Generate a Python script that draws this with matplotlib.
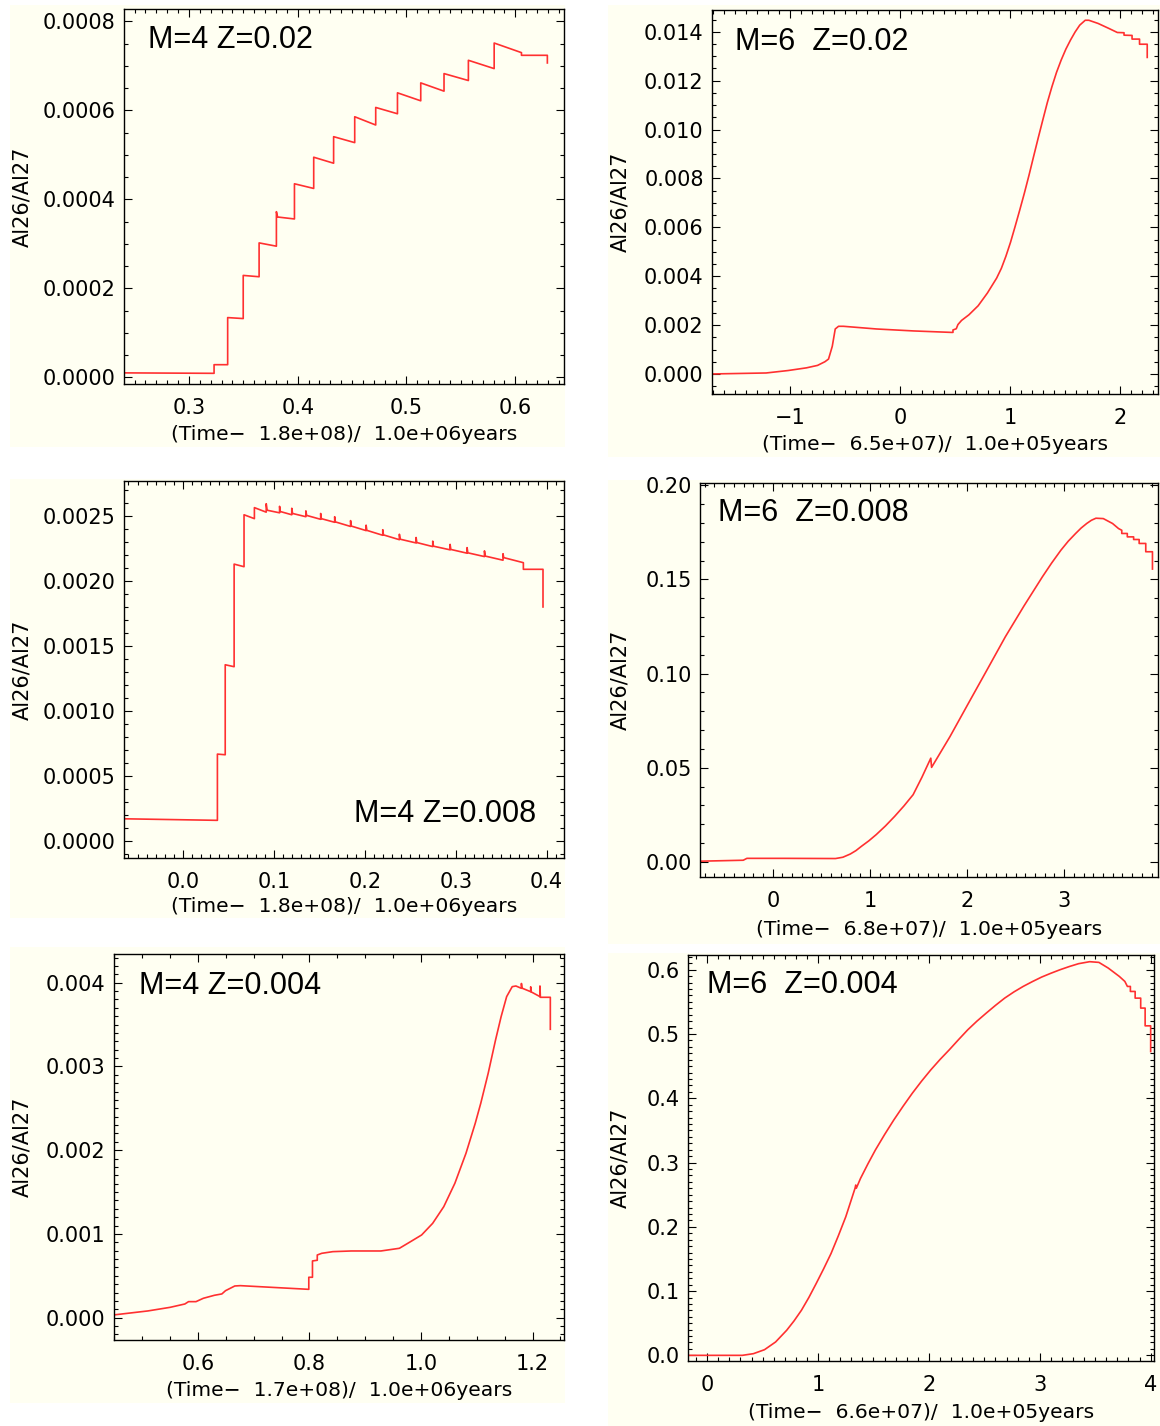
import matplotlib
matplotlib.use('Agg')
import matplotlib.pyplot as plt
from matplotlib.ticker import MultipleLocator, FuncFormatter
from matplotlib.patches import Rectangle

# Al26/Al27 against shifted time, one track per model

# M=4 Z=0.02  (time - 1.8e8)/1e6 yr
m4_z020_t = [0.2403, 0.3231, 0.3231, 0.3356, 0.3356, 0.3499, 0.3499, 0.3645, 0.3645,
             0.3804, 0.3804, 0.3815, 0.3970, 0.3970, 0.4147, 0.4147, 0.4330, 0.4330,
             0.4524, 0.4524, 0.4717, 0.4717, 0.4917, 0.4917, 0.5131, 0.5131, 0.5345,
             0.5345, 0.5569, 0.5569, 0.5806, 0.5806, 0.6057, 0.6057, 0.6295, 0.6295]
m4_z020_r = [0.0000100, 0.0000090, 0.0000284, 0.0000284, 0.0001343, 0.0001321, 0.0002291,
             0.0002261, 0.0003022, 0.0002948, 0.0003724, 0.0003604, 0.0003560, 0.0004351,
             0.0004246, 0.0004948, 0.0004813, 0.0005410, 0.0005276, 0.0005858, 0.0005672,
             0.0006067, 0.0005925, 0.0006396, 0.0006216, 0.0006619, 0.0006433, 0.0006828,
             0.0006672, 0.0007127, 0.0006940, 0.0007515, 0.0007299, 0.0007239, 0.0007239,
             0.0007067]

# M=6 Z=0.02  (time - 6.5e7)/1e5 yr
m6_z020_t = [-1.712, -1.22, -1.02, -0.853, -0.752, -0.685, -0.652, -0.618, -0.591, -0.561,
             -0.517, -0.215, 0.121, 0.467, 0.480, 0.480, 0.510, 0.525, 0.558, 0.625, 0.709,
             0.793, 0.877, 0.920, 0.961, 1.003, 1.045, 1.087, 1.129, 1.171, 1.213, 1.255,
             1.297, 1.338, 1.380, 1.422, 1.464, 1.507, 1.549, 1.591, 1.633, 1.683, 1.716,
             1.800, 1.901, 1.975, 2.036, 2.036, 2.109, 2.109, 2.177, 2.177, 2.247, 2.247]
m6_z020_r = [0.00000, 0.00004, 0.00014, 0.00025, 0.00035, 0.00050, 0.00061, 0.00113, 0.00184,
             0.00195, 0.00195, 0.00184, 0.00176, 0.00170, 0.00170, 0.00180, 0.00185, 0.00202,
             0.00219, 0.00242, 0.00279, 0.00331, 0.00392, 0.00432, 0.00481, 0.00538, 0.00603,
             0.00670, 0.00739, 0.00812, 0.00889, 0.00965, 0.01039, 0.01110, 0.01175, 0.01234,
             0.01284, 0.01329, 0.01366, 0.01399, 0.01427, 0.01447, 0.01447, 0.01434, 0.01413,
             0.01397, 0.01396, 0.01386, 0.01385, 0.01370, 0.01370, 0.01349, 0.01349, 0.01295]

# M=4 Z=0.008  (time - 1.8e8)/1e6 yr
m4_z008_t = [-0.0655, 0.0378, 0.0378, 0.0464, 0.0464, 0.0562, 0.0562, 0.0671, 0.0671, 0.0785,
             0.0785, 0.0915, 0.0915, 0.0925, 0.1062, 0.1062, 0.1070, 0.1196, 0.1196, 0.1205,
             0.1351, 0.1351, 0.1360, 0.1514, 0.1514, 0.1522, 0.1668, 0.1668, 0.1676, 0.1843,
             0.1843, 0.1851, 0.2014, 0.2014, 0.2022, 0.2197, 0.2197, 0.2205, 0.2380, 0.2380,
             0.2388, 0.2564, 0.2564, 0.2572, 0.2747, 0.2747, 0.2755, 0.2938, 0.2938, 0.2946,
             0.3125, 0.3125, 0.3133, 0.3316, 0.3316, 0.3324, 0.3520, 0.3520, 0.3528, 0.3744,
             0.3744, 0.3960, 0.3960]
m4_z008_r = [0.000169, 0.000157, 0.000667, 0.000662, 0.001355, 0.001340, 0.002130, 0.002110,
             0.002510, 0.002480, 0.002565, 0.002530, 0.002595, 0.002545, 0.002525, 0.002575,
             0.002535, 0.002510, 0.002560, 0.002520, 0.002495, 0.002540, 0.002505, 0.002475,
             0.002520, 0.002480, 0.002452, 0.002495, 0.002455, 0.002420, 0.002465, 0.002423,
             0.002388, 0.002430, 0.002390, 0.002352, 0.002395, 0.002355, 0.002318, 0.002360,
             0.002322, 0.002293, 0.002335, 0.002296, 0.002265, 0.002307, 0.002268, 0.002240,
             0.002282, 0.002243, 0.002214, 0.002257, 0.002217, 0.002188, 0.002232, 0.002192,
             0.002160, 0.002210, 0.002180, 0.002141, 0.002090, 0.002090, 0.001800]

# M=6 Z=0.008  (time - 6.8e7)/1e5 yr
m6_z008_t = [-0.741, -0.304, -0.266, 0.114, 0.646, 0.722, 0.798, 0.856, 0.913, 0.989, 1.065,
             1.160, 1.255, 1.350, 1.445, 1.536, 1.627, 1.635, 1.730, 1.825, 2.015, 2.205,
             2.395, 2.586, 2.776, 2.871, 2.966, 3.042, 3.118, 3.175, 3.232, 3.280, 3.327,
             3.403, 3.498, 3.560, 3.593, 3.593, 3.650, 3.650, 3.715, 3.715, 3.772, 3.772,
             3.840, 3.840, 3.909, 3.909]
m6_z008_r = [0.0004, 0.0009, 0.0019, 0.0019, 0.0018, 0.0025, 0.0042, 0.0060, 0.0083, 0.0112,
             0.0145, 0.0191, 0.0242, 0.0297, 0.0357, 0.0450, 0.0551, 0.0502, 0.0584, 0.0666,
             0.0843, 0.1019, 0.1196, 0.1359, 0.1514, 0.1587, 0.1655, 0.1703, 0.1744, 0.1773,
             0.1797, 0.1814, 0.1825, 0.1823, 0.1797, 0.1770, 0.1761, 0.1744, 0.1744, 0.1726,
             0.1726, 0.1712, 0.1712, 0.1691, 0.1691, 0.1647, 0.1647, 0.1555]

# M=4 Z=0.004  (time - 1.7e8)/1e6 yr
m4_z004_t = [0.4489, 0.5105, 0.5503, 0.5768, 0.5834, 0.5967, 0.6099, 0.6298, 0.6431, 0.6497,
             0.6663, 0.6762, 0.7989, 0.7989, 0.8055, 0.8055, 0.8141, 0.8141, 0.8221, 0.8420,
             0.8751, 0.9281, 0.9613, 0.9812, 1.0011, 1.0209, 1.0408, 1.0607, 1.0806, 1.0972,
             1.1071, 1.1204, 1.1336, 1.1436, 1.1535, 1.1635, 1.1701, 1.1800, 1.1800, 1.1808,
             1.1966, 1.1966, 1.1974, 1.2132, 1.2132, 1.2140, 1.2318, 1.2318]
m4_z004_r = [0.000032, 0.000080, 0.000123, 0.000163, 0.000191, 0.000191, 0.000231, 0.000267,
             0.000283, 0.000322, 0.000378, 0.000382, 0.000338, 0.000482, 0.000482, 0.000677,
             0.000685, 0.000748, 0.000768, 0.000788, 0.000796, 0.000796, 0.000828, 0.000907,
             0.000987, 0.001126, 0.001325, 0.001604, 0.001962, 0.002320, 0.002559, 0.002917,
             0.003315, 0.003594, 0.003833, 0.003952, 0.003960, 0.003932, 0.003990, 0.003935,
             0.003892, 0.003950, 0.003890, 0.003833, 0.003960, 0.003825, 0.003825, 0.003443]

# M=6 Z=0.004  (time - 6.6e7)/1e5 yr
m6_z004_t = [-0.173, 0.317, 0.417, 0.517, 0.617, 0.717, 0.783, 0.850, 0.917, 0.983, 1.050,
             1.117, 1.183, 1.250, 1.333, 1.340, 1.345, 1.383, 1.450, 1.517, 1.600, 1.683,
             1.767, 1.850, 1.933, 2.017, 2.100, 2.183, 2.267, 2.350, 2.433, 2.517, 2.600,
             2.683, 2.767, 2.850, 2.933, 3.017, 3.100, 3.183, 3.267, 3.350, 3.450, 3.533,
             3.617, 3.717, 3.767, 3.790, 3.817, 3.817, 3.860, 3.860, 3.910, 3.910, 3.950,
             3.950, 4.000, 4.000]
m6_z004_r = [0.0, 0.0, 0.0026, 0.0088, 0.0208, 0.0390, 0.0535, 0.0701, 0.0900, 0.1117, 0.1345,
             0.1584, 0.1860, 0.2156, 0.2597, 0.2650, 0.2600, 0.2753, 0.2980, 0.3195, 0.3435,
             0.3662, 0.3876, 0.4078, 0.4265, 0.4442, 0.4603, 0.4753, 0.4912, 0.5065, 0.5200,
             0.5325, 0.5445, 0.5558, 0.5655, 0.5740, 0.5815, 0.5886, 0.5945, 0.6000, 0.6050,
             0.6094, 0.6125, 0.6114, 0.6026, 0.5896, 0.5818, 0.5740, 0.5740, 0.5662, 0.5662,
             0.5558, 0.5558, 0.5403, 0.5403, 0.5127, 0.5127, 0.4727]

W, H = 1160, 1426
cream = '#FFFFF2'
red = '#FF3030'
tick_font = 'DejaVu Sans'
note_font = 'Liberation Sans'

fig = plt.figure(figsize=(W / 100, H / 100), dpi=100, facecolor='white')


def frac_box(x0, y0, x1, y1):
    return [x0 / W, 1 - y1 / H, (x1 - x0) / W, (y1 - y0) / H]


def fmt(nd):
    def f(v, pos):
        if abs(v) < 1e-12:
            v = 0.0
        return ('{:.%df}' % nd).format(v).replace('-', '\u2212')
    return FuncFormatter(f)


panels = [
    dict(t=m4_z020_t, r=m4_z020_r, note='M=4 Z=0.02', note_xy=(148, 48), note_ha='left',
         bg=(10, 5, 565, 447), ax=(124, 9, 564, 384),
         xlim=(0.2403, 0.6448), ylim=(-0.000015, 0.000828),
         xmaj=0.1, xmin=0.01, ymaj=0.0002, ymin=0.00005, xnd=1, ynd=4,
         xlab='(Time\u2212  1.8e+08)/  1.0e+06years', xlab_y=434, ylab_x=22),
    dict(t=m6_z020_t, r=m6_z020_r, note='M=6  Z=0.02', note_xy=(735, 50), note_ha='left',
         bg=(608, 5, 1160, 457), ax=(712, 10, 1158, 394),
         xlim=(-1.712, 2.345), ylim=(-0.00082, 0.01489),
         xmaj=1, xmin=0.1, ymaj=0.002, ymin=0.0005, xnd=0, ynd=3,
         xlab='(Time\u2212  6.5e+07)/  1.0e+05years', xlab_y=445, ylab_x=620),
    dict(t=m4_z008_t, r=m4_z008_r, note='M=4 Z=0.008', note_xy=(536, 822), note_ha='right',
         bg=(10, 479, 565, 918), ax=(123.5, 481, 564, 858),
         xlim=(-0.0655, 0.4191), ylim=(-0.000133, 0.00277),
         xmaj=0.1, xmin=0.01, ymaj=0.0005, ymin=0.0001, xnd=1, ynd=4,
         xlab='(Time\u2212  1.8e+08)/  1.0e+06years', xlab_y=907, ylab_x=22),
    dict(t=m6_z008_t, r=m6_z008_r, note='M=6  Z=0.008', note_xy=(718, 521), note_ha='left',
         bg=(608, 480, 1160, 944), ax=(700, 483, 1158, 877),
         xlim=(-0.749, 3.966), ylim=(-0.0080, 0.2012),
         xmaj=1, xmin=0.1, ymaj=0.05, ymin=0.01, xnd=0, ynd=2,
         xlab='(Time\u2212  6.8e+07)/  1.0e+05years', xlab_y=929, ylab_x=620),
    dict(t=m4_z004_t, r=m4_z004_r, note='M=4 Z=0.004', note_xy=(139, 994), note_ha='left',
         bg=(10, 947, 565, 1403), ax=(113.5, 954, 564, 1340),
         xlim=(0.4489, 1.2563), ylim=(-0.000267, 0.004342),
         xmaj=0.2, xmin=0.05, ymaj=0.001, ymin=0.0001, xnd=1, ynd=3,
         xlab='(Time\u2212  1.7e+08)/  1.0e+06years', xlab_y=1391, ylab_x=22),
    dict(t=m6_z004_t, r=m6_z004_r, note='M=6  Z=0.004', note_xy=(707, 993), note_ha='left',
         bg=(608, 953, 1160, 1426), ax=(688, 955, 1154, 1361),
         xlim=(-0.173, 4.03), ylim=(-0.0088, 0.6229),
         xmaj=1, xmin=0.1, ymaj=0.1, ymin=0.01, xnd=0, ynd=1,
         xlab='(Time\u2212  6.6e+07)/  1.0e+05years', xlab_y=1413, ylab_x=620),
]

for p in panels:
    bx0, by0, bx1, by1 = p['bg']
    fig.patches.append(Rectangle((bx0 / W, 1 - by1 / H), (bx1 - bx0) / W, (by1 - by0) / H,
                                 transform=fig.transFigure, facecolor=cream,
                                 edgecolor='none', zorder=-5))
    x0, y0, x1, y1 = p['ax']
    ax = fig.add_axes(frac_box(x0, y0, x1, y1))
    ax.set_facecolor(cream)
    ax.plot(p['t'], p['r'], color=red, lw=1.2)
    ax.set_xlim(*p['xlim'])
    ax.set_ylim(*p['ylim'])

    ax.xaxis.set_major_locator(MultipleLocator(p['xmaj']))
    ax.xaxis.set_minor_locator(MultipleLocator(p['xmin']))
    ax.yaxis.set_major_locator(MultipleLocator(p['ymaj']))
    ax.yaxis.set_minor_locator(MultipleLocator(p['ymin']))
    ax.xaxis.set_major_formatter(fmt(p['xnd']))
    ax.yaxis.set_major_formatter(fmt(p['ynd']))

    ax.tick_params(which='both', direction='in', top=True, right=True, width=0.8,
                   colors='black', labelsize=15)
    ax.tick_params(which='major', length=6)
    ax.tick_params(which='minor', length=3)
    ax.tick_params(axis='x', which='major', pad=10)
    ax.tick_params(axis='y', which='major', pad=6)
    for lab in ax.get_xticklabels() + ax.get_yticklabels():
        lab.set_family(tick_font)
    for s in ax.spines.values():
        s.set_linewidth(1.0)

    w, h = x1 - x0, y1 - y0
    ax.set_xlabel(p['xlab'], fontsize=14.6, family=tick_font, va='center')
    ax.xaxis.set_label_coords(0.5, (y1 - p['xlab_y']) / h)
    ax.set_ylabel('Al26/Al27', fontsize=15, family=tick_font, va='center')
    ax.yaxis.set_label_coords((p['ylab_x'] - x0) / w, 0.5)

    nx, ny = p['note_xy']
    ax.text((nx - x0) / w, (y1 - ny) / h, p['note'], transform=ax.transAxes,
            fontsize=22, family=note_font, ha=p['note_ha'], va='baseline')

fig.savefig('out.png', dpi=100, facecolor='white')
